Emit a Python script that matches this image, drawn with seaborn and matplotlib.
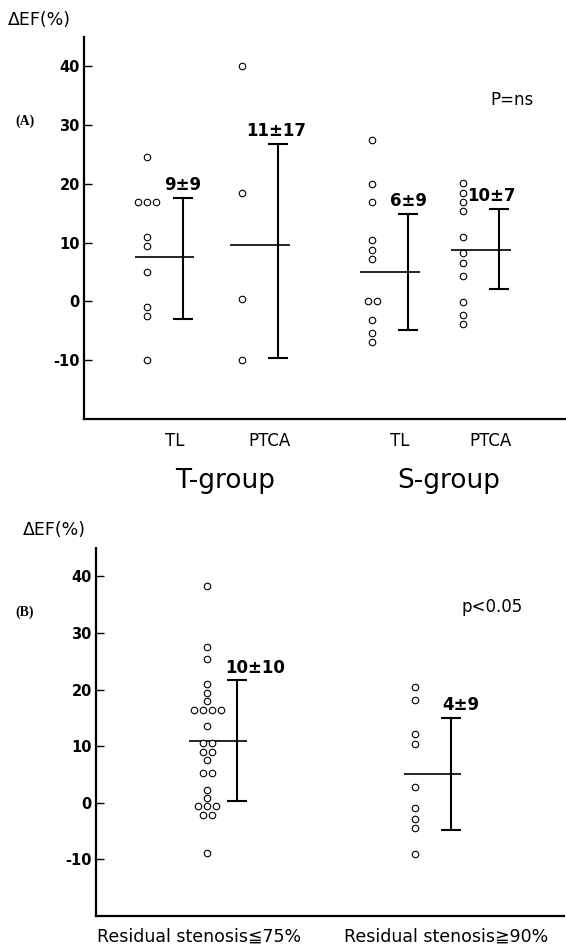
import numpy as np
import pandas as pd
import matplotlib
matplotlib.use("Agg")
import matplotlib.pyplot as plt
import matplotlib.transforms as mtransforms
import seaborn as sns

# ---------------- data ----------------
A_GROUPS = ["T-group", "S-group"]
A_TREAT = ["TL", "PTCA", "TL", "PTCA"]
A_T_TL = [24.5, 17, 17, 17, 11, 9.5, 5, -1, -2.5, -10]
A_T_PTCA = [40, 18.5, 0.5, -10]
A_S_TL = [27.4, 20, 17, 10.4, 8.8, 7.3, 0, 0, -3.1, -5.3, -6.9]
A_S_PTCA = [20.1, 18.5, 17, 15.4, 11, 8.2, 6.6, 4.3, -0.1, -2.3, -3.9]
A_MEAN = [7.5, 9.6, 5.0, 8.7]
A_ERR_TOP = [17.6, 26.8, 14.9, 15.8]
A_ERR_BOTTOM = [-2.9, -9.7, -4.9, 2.2]
A_LABELS = ["9±9", "11±17", "6±9", "10±7"]
A_P = "P=ns"

B_CATEGORIES = ["Residual stenosis≦75%", "Residual stenosis≧90%"]
B_LE75 = [38.2, 27.6, 25.4, 21, 19.4, 17.9, 16.4, 16.4, 16.4, 16.4, 13.5,
          10.5, 10.5, 9, 9, 7.5, 5.3, 5.3, 2.2, 0.8, -0.6, -0.6, -0.6,
          -2.2, -2.2, -8.8]
B_GE90 = [20.4, 18.1, 12.1, 10.4, 2.8, -0.9, -2.9, -4.5, -9.1]
B_MEAN = [10.9, 5.1]
B_ERR_TOP = [21.6, 15.0]
B_ERR_BOTTOM = [0.35, -4.8]
B_LABELS = ["10±10", "4±9"]
B_P = "p<0.05"

Y_TICKS = [-10, 0, 10, 20, 30, 40]
Y_LABEL = "ΔEF(%)"

# ---------------- layout ----------------
W, H = 566, 952
A_COLS = [1.0, 2.0, 3.37, 4.33]
A_XLIM = (0.337, 5.41)
A_PX = 95.0
A_ERR_DX = 0.38
A_MEAN_SPAN = (-0.13, 0.50)
A_TICK_DX = 0.29
A_LABEL_DX = [0.0, -0.02, 0.0, -0.08]
A_GROUP_X = [1.82, 4.18]

B_COLS = [1.0, 2.0]
B_XLIM = (0.466, 2.716)
B_PX = 208.0
B_ERR_DX = [0.144, 0.173]
B_MEAN_SPAN = [(-0.087, 0.19), (-0.053, 0.221)]
B_TICK_X = [0.96, 2.15]
B_LABEL_DX = [0.087, 0.048]

DODGE_PX = 9.0
YLIM = (-20, 45)

sns.set_style("ticks")
plt.rcParams["font.family"] = ["DejaVu Sans", "Noto Sans CJK JP"]
plt.rcParams["text.color"] = "black"
plt.rcParams["axes.labelcolor"] = "black"
plt.rcParams["xtick.color"] = "black"
plt.rcParams["ytick.color"] = "black"


def dodge_x(values, center, step):
    vals = np.asarray(values, float)
    x = np.full(len(vals), center, float)
    for v in np.unique(vals):
        idx = np.where(vals == v)[0]
        k = len(idx)
        x[idx] = center + (np.arange(k) - (k - 1) / 2.0) * step
    return x


def style_axis(ax):
    sns.despine(ax=ax)
    for s in ("left", "bottom"):
        ax.spines[s].set_linewidth(1.6)
        ax.spines[s].set_color("black")
    ax.set_ylim(*YLIM)
    ax.set_yticks(Y_TICKS)
    ax.set_yticklabels([str(t) for t in Y_TICKS], fontweight="bold",
                       fontsize=10.5)
    ax.tick_params(axis="y", direction="in", length=6, width=1.0,
                   pad=3, colors="black")
    ax.tick_params(axis="x", length=0, colors="black")
    ax.set_xlabel("")
    ax.set_ylabel("")


def px2fig(x, y):
    return x / W, 1 - y / H


fig = plt.figure(figsize=(W / 100, H / 100), dpi=100)

# ---------------- panel A ----------------
ax1 = fig.add_axes([84 / W, 1 - 419 / H, (566 - 84) / W, (419 - 37) / H])
a_series = [A_T_TL, A_T_PTCA, A_S_TL, A_S_PTCA]
frames = []
for i, vals in enumerate(a_series):
    frames.append(pd.DataFrame({
        "x": dodge_x(vals, A_COLS[i], DODGE_PX / A_PX),
        "value": vals,
        "treat": A_TREAT[i],
    }))
dfa = pd.concat(frames, ignore_index=True)
sns.scatterplot(data=dfa, x="x", y="value", ax=ax1, s=22, color="white",
                edgecolor="black", linewidth=0.8, legend=False, zorder=3)
for i, c in enumerate(A_COLS):
    ax1.hlines(A_MEAN[i], c + A_MEAN_SPAN[0], c + A_MEAN_SPAN[1],
               color="black", lw=1.2, zorder=2)
    ex = c + A_ERR_DX
    ax1.errorbar([ex], [A_MEAN[i]],
                 yerr=[[A_MEAN[i] - A_ERR_BOTTOM[i]], [A_ERR_TOP[i] - A_MEAN[i]]],
                 fmt="none", ecolor="black", elinewidth=1.5, capsize=7.5,
                 capthick=1.5, zorder=2)
    ax1.text(ex + A_LABEL_DX[i], A_ERR_TOP[i] + 2.2, A_LABELS[i],
             ha="center", va="center", fontsize=12, fontweight="bold")
style_axis(ax1)
ax1.set_xlim(*A_XLIM)
ax1.set_xticks([c + A_TICK_DX for c in A_COLS])
ax1.set_xticklabels(A_TREAT, fontsize=12)
ax1.tick_params(axis="x", pad=9)
ax1.text(4.84, 34.2, A_P, ha="center", va="center", fontsize=12)
trans1 = mtransforms.blended_transform_factory(ax1.transData, ax1.transAxes)
for gx, g in zip(A_GROUP_X, A_GROUPS):
    ax1.text(gx, -0.18, g, transform=trans1, ha="center", va="baseline",
             fontsize=19)

# ---------------- panel B ----------------
ax2 = fig.add_axes([96 / W, 1 - 916 / H, (564 - 96) / W, (916 - 548) / H])
b_series = [B_LE75, B_GE90]
frames = []
for i, vals in enumerate(b_series):
    frames.append(pd.DataFrame({
        "x": dodge_x(vals, B_COLS[i], DODGE_PX / B_PX),
        "value": vals,
        "cat": B_CATEGORIES[i],
    }))
dfb = pd.concat(frames, ignore_index=True)
sns.scatterplot(data=dfb, x="x", y="value", ax=ax2, s=22, color="white",
                edgecolor="black", linewidth=0.8, legend=False, zorder=3)
for i, c in enumerate(B_COLS):
    ax2.hlines(B_MEAN[i], c + B_MEAN_SPAN[i][0], c + B_MEAN_SPAN[i][1],
               color="black", lw=1.2, zorder=2)
    ex = c + B_ERR_DX[i]
    ax2.errorbar([ex], [B_MEAN[i]],
                 yerr=[[B_MEAN[i] - B_ERR_BOTTOM[i]], [B_ERR_TOP[i] - B_MEAN[i]]],
                 fmt="none", ecolor="black", elinewidth=1.5, capsize=7.5,
                 capthick=1.5, zorder=2)
    ax2.text(ex + B_LABEL_DX[i], B_ERR_TOP[i] + 2.2, B_LABELS[i],
             ha="center", va="center", fontsize=12, fontweight="bold")
style_axis(ax2)
ax2.set_xlim(*B_XLIM)
ax2.set_xticks(B_TICK_X)
ax2.set_xticklabels(B_CATEGORIES, fontsize=12.5)
ax2.tick_params(axis="x", pad=8)
ax2.text(2.37, 34.5, B_P, ha="center", va="center", fontsize=12)

# ---------------- figure texts ----------------
fig.text(*px2fig(8, 20), Y_LABEL, ha="left", va="center", fontsize=12.5)
fig.text(*px2fig(23, 530), Y_LABEL, ha="left", va="center", fontsize=12.5)
fig.text(*px2fig(15, 121), "(A)", ha="left", va="center", fontsize=10,
         family="Liberation Serif", fontweight="bold")
fig.text(*px2fig(15, 612), "(B)", ha="left", va="center", fontsize=10,
         family="Liberation Serif", fontweight="bold")

fig.savefig("out.png", dpi=100, facecolor="white")
